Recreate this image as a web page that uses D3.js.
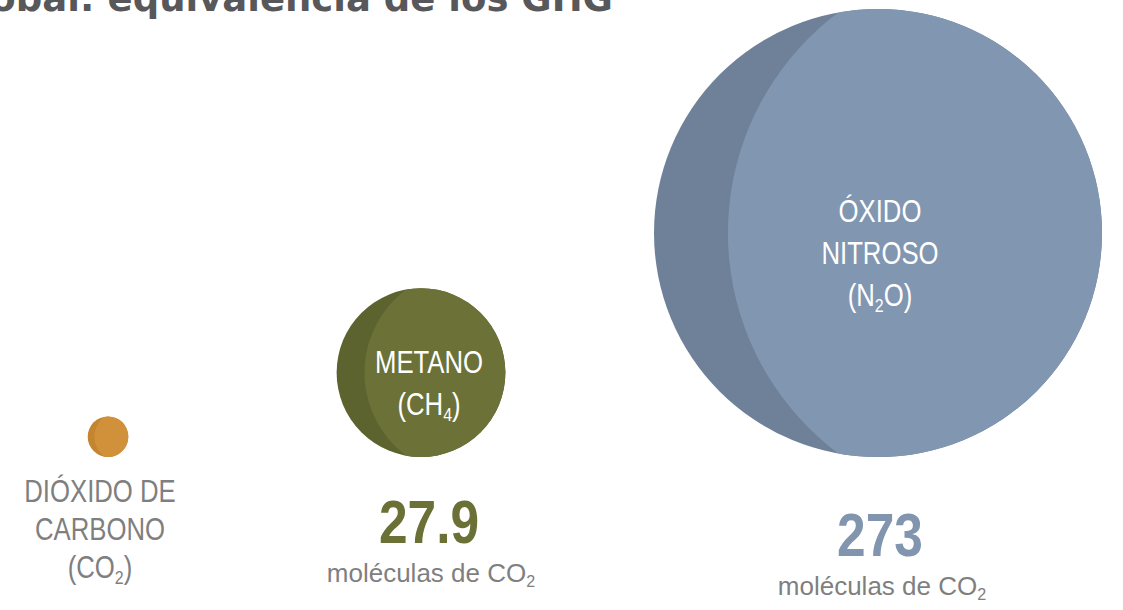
<!DOCTYPE html>
<html>
<head>
<meta charset="utf-8">
<script src="https://cdn.jsdelivr.net/npm/d3@7"></script>
<style>
  html, body { margin: 0; padding: 0; background: #fff; }
  svg { display: block; }
</style>
</head>
<body>
<svg id="chart" width="1123" height="610"></svg>
<script>
// data
var gases = ["CO2", "CH4", "N2O"];
var gwpValues = [1, 27.9, 273];
var valueLabels = [null, "27.9", "273"];
// each line is a list of pieces, odd pieces are subscripts
var outerLines = [
    [["DIÓXIDO DE"], ["CARBONO"], ["(CO", "2", ")"]],
    [],
    []
];
var innerLines = [
    [],
    [["METANO"], ["(CH", "4", ")"]],
    [["ÓXIDO"], ["NITROSO"], ["(N", "2", "O)"]]
];
var unitLabel = ["moléculas de CO", "2"];
var titleText = "Potencial de calentamiento global: equivalencia de los GHG";

var rimColors = ["#c4852f", "#5d632f", "#6f8199"];
var faceColors = ["#d1913a", "#6b7137", "#8196b0"];
var valueColors = ["#d1913a", "#6b7136", "#8195ae"];

var svg = d3.select("#chart");
var baseY = 457;      // circles sit on a common bottom line
var narrow = 0.83;    // condensed look of the labels

var r = d3.scalePow()
    .exponent(0.428)
    .domain([0, d3.max(gwpValues)])
    .range([0, 224]);

var cx = d3.scaleOrdinal().domain(gases).range([108, 421, 878]);
var labelX = d3.scaleOrdinal().domain(gases).range([100, 429, 880]);
var valueY = d3.scaleOrdinal().domain(gases).range([0, 543, 556]);

var rows = gases.map(function (g, i) {
    return {gas: g, value: gwpValues[i], i: i};
});

// title, cut off at the top left like the reference
svg.append("text")
    .attr("x", 613)
    .attr("y", 11)
    .attr("text-anchor", "end")
    .style("font-family", "DejaVu Sans")
    .style("font-weight", "bold")
    .style("font-size", "37px")
    .style("fill", "#58585a")
    .text(titleText);

var defs = svg.append("defs");
defs.selectAll("clipPath")
    .data(rows)
    .enter()
    .append("clipPath")
    .attr("id", function (d) { return "clip-" + d.i; })
    .append("circle")
    .attr("cx", function (d) { return cx(d.gas); })
    .attr("cy", function (d) { return baseY - r(d.value); })
    .attr("r", function (d) { return r(d.value); });

var discs = svg.selectAll("g.disc")
    .data(rows)
    .enter()
    .append("g")
    .attr("class", "disc");

discs.append("circle")
    .attr("cx", function (d) { return cx(d.gas); })
    .attr("cy", function (d) { return baseY - r(d.value); })
    .attr("r", function (d) { return r(d.value); })
    .style("fill", function (d) { return rimColors[d.i]; });

// lighter face, shifted right, leaves a dark crescent on the left
discs.append("circle")
    .attr("clip-path", function (d) { return "url(#clip-" + d.i + ")"; })
    .attr("cx", function (d) { return cx(d.gas) + 0.56 * r(d.value); })
    .attr("cy", function (d) { return baseY - r(d.value); })
    .attr("r", function (d) { return 1.23 * r(d.value); })
    .style("fill", function (d) { return faceColors[d.i]; });

function writeLine(sel, pieces, size) {
    pieces.forEach(function (p, k) {
        var t = sel.append("tspan").text(p);
        if (k % 2 === 1) {
            t.attr("dy", size * 0.2).style("font-size", (size * 0.62) + "px");
        } else if (k > 1) {
            t.attr("dy", -size * 0.2);
        }
    });
}

function narrowText(parent, x, y, size, color) {
    return parent.append("text")
        .attr("transform", "translate(" + x + "," + y + ") scale(" + narrow + ",1)")
        .attr("text-anchor", "middle")
        .style("font-family", "Liberation Sans, Arial, sans-serif")
        .style("font-size", size + "px")
        .style("fill", color);
}

var lineGap = 42;

// names inside the discs
rows.forEach(function (d) {
    var lines = innerLines[d.i];
    if (!lines.length) return;
    var rad = r(d.value);
    var first = baseY - rad - (lines.length - 1) * lineGap / 2 + 15 + 0.071 * rad;
    lines.forEach(function (pieces, k) {
        var t = narrowText(svg, labelX(d.gas), first + k * lineGap, 31, "#ffffff");
        writeLine(t, pieces, 31);
    });
});

// names under the small disc
rows.forEach(function (d) {
    var lines = outerLines[d.i];
    lines.forEach(function (pieces, k) {
        var t = narrowText(svg, labelX(d.gas), 502 + k * 38, 31, "#7f7f7f");
        writeLine(t, pieces, 31);
    });
});

// values and unit
rows.forEach(function (d) {
    if (!valueLabels[d.i]) return;
    narrowText(svg, labelX(d.gas), valueY(d.gas), 62, valueColors[d.i])
        .style("font-weight", "bold")
        .text(valueLabels[d.i]);
    var u = svg.append("text")
        .attr("x", labelX(d.gas) + 2)
        .attr("y", valueY(d.gas) + 39)
        .attr("text-anchor", "middle")
        .style("font-family", "Liberation Sans, Arial, sans-serif")
        .style("font-size", "26px")
        .style("fill", "#7f7f7f");
    writeLine(u, unitLabel, 26);
});
</script>
</body>
</html>
